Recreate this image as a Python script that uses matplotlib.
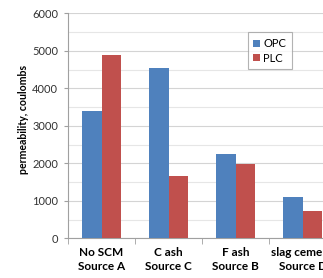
from matplotlib import pyplot as plt
from matplotlib.ticker import MultipleLocator
import numpy as np

categories = ["No SCM\nSource A", "C ash\nSource C", "F ash\nSource B", "slag cement\nSource D"]
opc = [3400, 4550, 2250, 1100]
plc = [4900, 1650, 1970, 720]

plt.rcParams['font.family'] = ['Lato', 'DejaVu Sans']

fig = plt.figure(figsize=(3.23, 2.78), dpi=100)
ax = fig.add_axes([0.2105, 0.143, 0.83, 0.809])

x = np.arange(len(categories))
w = 0.29
ax.bar(x - w / 2, opc, w, color='#4F81BD', label='OPC', zorder=3)
ax.bar(x + w / 2, plc, w, color='#C0504D', label='PLC', zorder=3)

ax.set_xlim(-0.5, len(categories) - 0.5)
ax.set_ylim(0, 6000)
ax.yaxis.set_major_locator(MultipleLocator(1000))
ax.yaxis.set_minor_locator(MultipleLocator(500))
ax.grid(which='major', axis='y', color='#d4d4d4', linewidth=0.8, zorder=0)
ax.grid(which='minor', axis='y', color='#e6e6e6', linewidth=0.8, zorder=0)

ax.set_xticks(x)
ax.set_xticklabels(categories, fontsize=8.5, fontweight='bold', linespacing=1.35)
ax.set_xticks(np.arange(len(categories) + 1) - 0.5, minor=True)
ax.tick_params(axis='x', which='major', length=0, pad=6)
ax.tick_params(axis='x', which='minor', length=4, color='#a0a0a0')
ax.tick_params(axis='y', which='major', length=3, color='#a0a0a0', labelsize=8, pad=4, labelcolor='#333333')
ax.tick_params(axis='y', which='minor', length=0)

for s in ['top', 'right']:
    ax.spines[s].set_visible(False)
for s in ['left', 'bottom']:
    ax.spines[s].set_color('#a0a0a0')
    ax.spines[s].set_linewidth(0.8)

ax.set_ylabel("permeability, coulombs", fontsize=7.6, fontweight='bold')
ax.yaxis.set_label_coords(-0.145, 0.53)

leg = ax.legend(loc='upper left', bbox_to_anchor=(0.65, 0.94), fontsize=8, frameon=True,
                fancybox=False, handlelength=0.6, handleheight=0.6, handletextpad=0.3,
                borderpad=0.5, labelspacing=0.35)
leg.get_frame().set_edgecolor('#a0a0a0')
leg.get_frame().set_linewidth(0.8)

fig.savefig('out.png', dpi=100)
